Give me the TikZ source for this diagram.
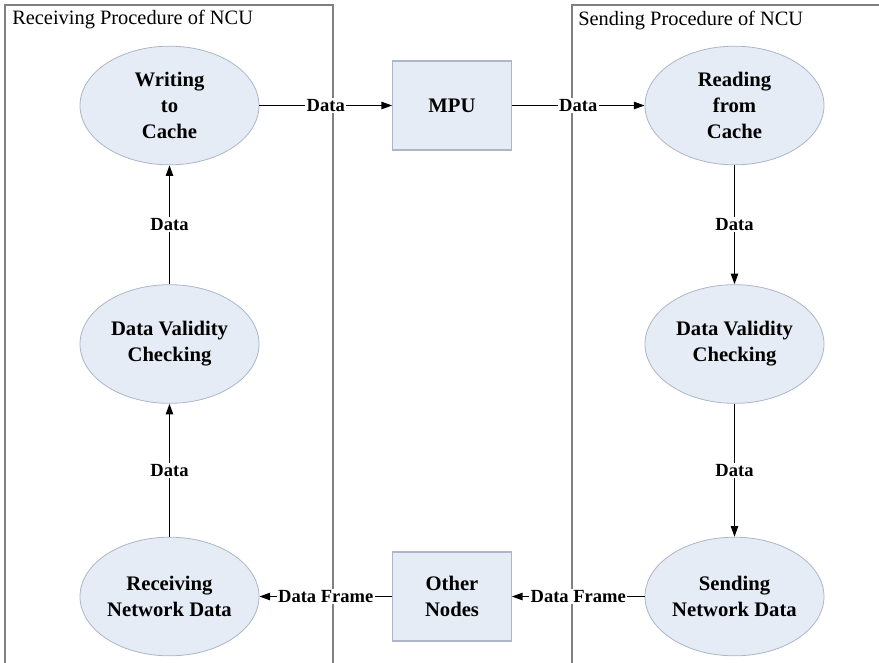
\documentclass[tikz,border=0pt]{standalone}
\usepackage{fontspec}
\setmainfont{Liberation Serif}
\usetikzlibrary{shapes.geometric,arrows.meta}

\definecolor{procfill}{RGB}{230,236,246}
\definecolor{procline}{RGB}{172,182,198}
\definecolor{panelline}{RGB}{128,128,128}

\tikzset{
  proc/.style={ellipse, draw=procline, line width=0.6pt, fill=procfill,
    minimum width=134.25pt, minimum height=89pt, inner sep=0pt,
    align=center, font=\fontsize{15.5}{19.5}\selectfont\bfseries},
  unit/.style={rectangle, draw=procline, line width=0.8pt, fill=procfill,
    minimum width=89pt, minimum height=66.75pt, inner sep=0pt,
    align=center, font=\fontsize{15.5}{19.5}\selectfont\bfseries},
  flow/.style={draw=black, line width=1pt, -{Triangle[length=8pt,width=5.5pt]}},
  flowlabel/.style={fill=white, inner sep=1pt,
    font=\fontsize{13.9}{16}\selectfont\bfseries},
  panel/.style={draw=panelline, line width=1.1pt},
  paneltitle/.style={anchor=west, inner sep=0pt,
    font=\fontsize{15.3}{18}\selectfont}
}

\begin{document}
\begin{tikzpicture}[x=0.75pt, y=-0.75pt]
  \useasboundingbox (0,0) rectangle (879,662);

  % procedure panels (open at the bottom / right)
  \draw[panel] (5,670) -- (5,5) -- (333,5) -- (333,670);
  \draw[panel] (572,670) -- (572,5) -- (885,5);
  \node[paneltitle] (rtitle) at (12,20) {Receiving Procedure of NCU};
  \node[paneltitle] (stitle) at (578,21) {Sending Procedure of NCU};

  % receiving side
  \node[proc] (wc) at (169.5,105.5) {Writing\\to\\Cache};
  \node[proc] (lv) at (169.5,344) {Data Validity\\Checking};
  \node[proc] (rn) at (169.5,596.5) {Receiving\\Network Data};

  % sending side
  \node[proc] (rc) at (734.5,105.5) {Reading\\from\\Cache};
  \node[proc] (rv) at (734.5,344) {Data Validity\\Checking};
  \node[proc] (sn) at (734.5,596.5) {Sending\\Network Data};

  % middle units
  \node[unit] (mpu) at (452,105.5) {MPU};
  \node[unit] (on) at (452,596.5) {Other\\Nodes};

  % data flow
  \draw[flow] (wc.east) -- node[flowlabel] {Data} (mpu.west);
  \draw[flow] (mpu.east) -- node[flowlabel] {Data} (rc.west);
  \draw[flow] (rc.south) -- node[flowlabel] {Data} (rv.north);
  \draw[flow] (rv.south) -- node[flowlabel] {Data} (sn.north);
  \draw[flow] (sn.west) -- node[flowlabel] {Data Frame} (on.east);
  \draw[flow] (on.west) -- node[flowlabel] {Data Frame} (rn.east);
  \draw[flow] (rn.north) -- node[flowlabel] {Data} (lv.south);
  \draw[flow] (lv.north) -- node[flowlabel] {Data} (wc.south);
\end{tikzpicture}
\end{document}
